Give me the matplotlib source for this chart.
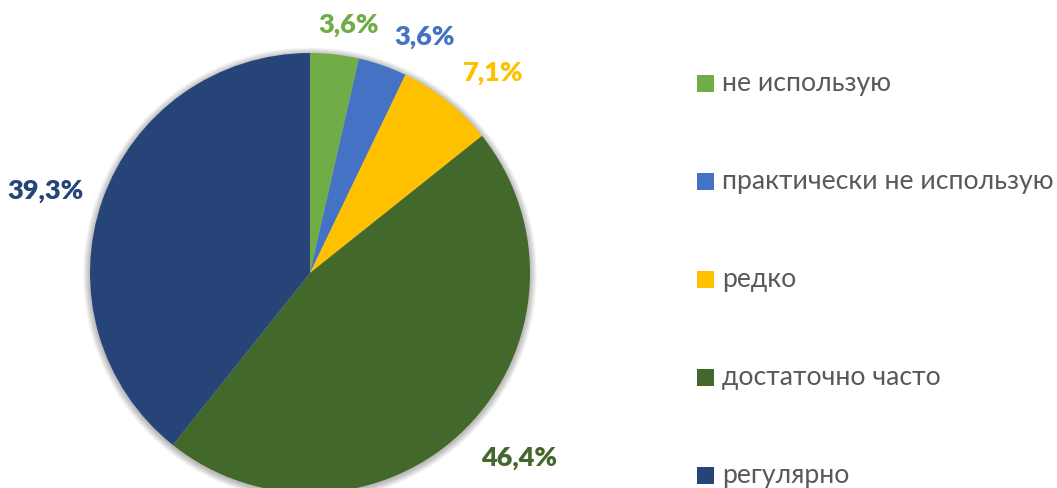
import numpy as np
import matplotlib
matplotlib.use("Agg")
import matplotlib.pyplot as plt
from matplotlib.patches import Rectangle, Circle

categories = ["не использую", "практически не использую", "редко", "достаточно часто", "регулярно"]
counts = [1, 1, 2, 13, 11]
pct_labels = ["3,6%", "3,6%", "7,1%", "46,4%", "39,3%"]
colors = ["#70AD47", "#4472C4", "#FFC000", "#43682B", "#264478"]

plt.rcParams['font.family'] = ['Lato', 'DejaVu Sans']

W, H = 1057, 488
fig = plt.figure(figsize=(W / 100, H / 100), dpi=100)

# pie axes: center (310, 273) px from top-left, radius 220 px
cx, cy, R = 310, 273, 220
ax = fig.add_axes([(cx - R) / W, (H - cy - R) / H, 2 * R / W, 2 * R / H])

# soft shadow behind the pie
n = 14
for k in range(n):
    r = 1.0 + 0.032 * (k + 1) / n
    ax.add_patch(Circle((0, -0.006), r, facecolor='black', edgecolor='none',
                        alpha=0.018, zorder=0, clip_on=False))

wedges, _ = ax.pie(counts, colors=colors, startangle=90, counterclock=False,
                   radius=1.0, wedgeprops=dict(linewidth=0, zorder=2))
ax.set_xlim(-1, 1)
ax.set_ylim(-1, 1)
ax.set_aspect('auto')
ax.axis('off')
for w in wedges:
    w.set_clip_on(False)

# label placement (distance factor, angular nudge in degrees)
label_dist = [1.141, 1.193, 1.232, 1.269, 1.257]
label_nudge = [-2.5, -6.7, -3.9, 3.5, 2.0]
for w, lab, c, d, nd in zip(wedges, pct_labels, colors, label_dist, label_nudge):
    mid = np.deg2rad((w.theta1 + w.theta2) / 2 + nd)
    ax.text(d * np.cos(mid), d * np.sin(mid), lab, color=c, fontsize=19.5,
            fontweight='heavy', ha='center', va='center', clip_on=False)

# legend
sq = 17
x_sq = 697
y0, dy = 83, 98.2
for i, (cat, c) in enumerate(zip(categories, colors)):
    yc = y0 + i * dy
    fig.patches.append(Rectangle((x_sq / W, (H - yc - sq / 2) / H), sq / W, sq / H,
                                 transform=fig.transFigure, facecolor=c, edgecolor='none'))
    fig.text((x_sq + sq + 8) / W, (H - yc) / H, cat, fontsize=19.2, color='#595959',
             ha='left', va='center')

fig.savefig("out.png", dpi=100)
